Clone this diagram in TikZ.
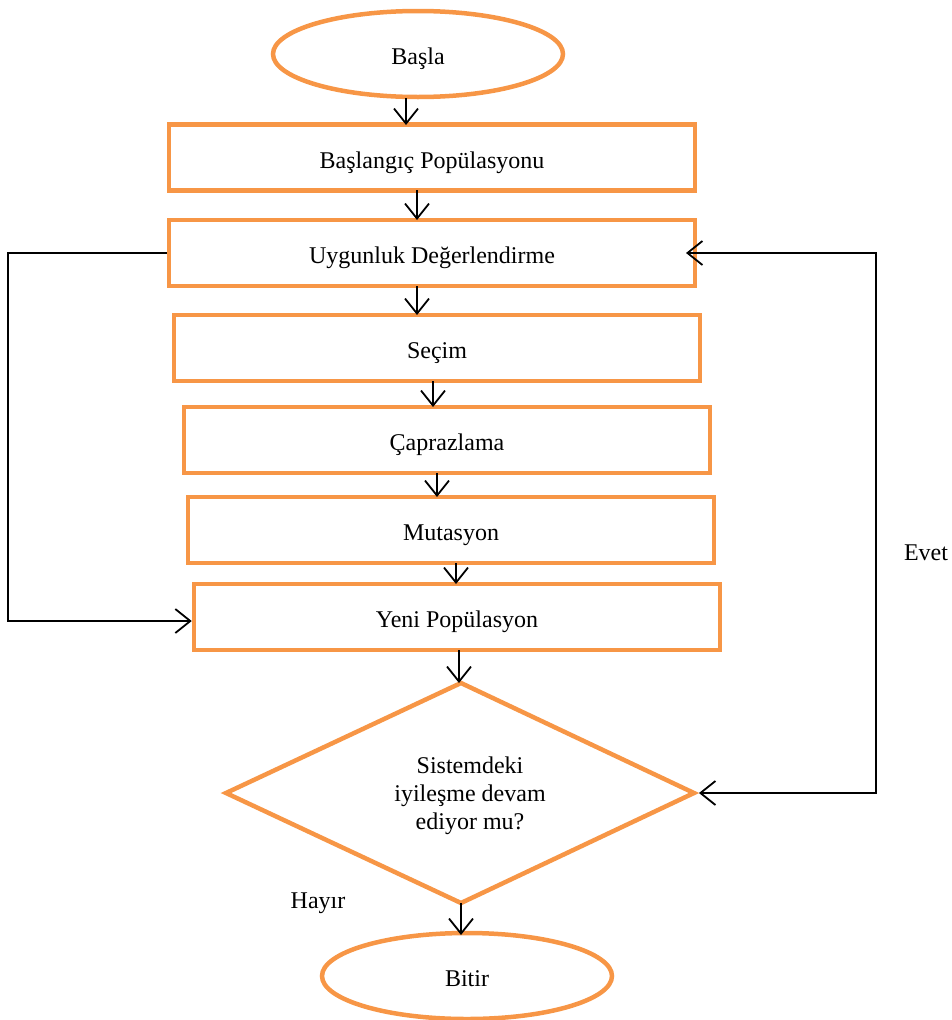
\documentclass[tikz,border=0pt]{standalone}
\usepackage{fontspec}
\setmainfont{Liberation Serif}
\usetikzlibrary{arrows.meta,shapes.geometric}
\definecolor{boxorange}{HTML}{F79646}
\tikzset{
  procbox/.style={draw=boxorange,line width=4.5pt,minimum width=526pt,minimum height=66pt,inner sep=0pt,font=\fontsize{24}{28}\selectfont,text height=22pt,text depth=1pt},
  termnode/.style={draw=boxorange,line width=4.5pt,ellipse,minimum width=290pt,minimum height=86pt,inner sep=0pt,font=\fontsize{24}{28}\selectfont,text height=22pt,text depth=1pt},
  conn/.style={draw=black,line width=1.8pt,-{Straight Barb[length=15pt,width=24pt,line width=1.8pt]}},
  conn2/.style={draw=black,line width=1.8pt,{Straight Barb[length=15pt,width=24pt,line width=1.8pt]}-{Straight Barb[length=15pt,width=24pt,line width=1.8pt]}},
  lbl/.style={font=\fontsize{24}{28}\selectfont,inner sep=0pt}
}
\begin{document}
\begin{tikzpicture}[x=1pt,y=-1pt]
\useasboundingbox (0,0) rectangle (952,1020);
\node[termnode] (start) at (418,54) {Başla};
\node[procbox] (p1) at (432,157.5) {Başlangıç Popülasyonu};
\node[procbox] (p2) at (432,253) {Uygunluk Değerlendirme};
\node[procbox] (p3) at (437,348) {Seçim};
\node[procbox] (p4) at (447,440) {Çaprazlama};
\node[procbox] (p5) at (451,530) {Mutasyon};
\node[procbox] (p6) at (457,617) {Yeni Popülasyon};
\coordinate (dt) at (461,683);
\coordinate (db) at (461,903);
\coordinate (dl) at (226,793);
\coordinate (dr) at (694,793);
\draw[draw=boxorange,line width=4.5pt,line join=miter] (dt) -- (dr) -- (db) -- (dl) -- cycle;
\node[lbl,align=center,font=\fontsize{24}{28}\selectfont] (dtext) at (470,796) {Sistemdeki\\iyileşme devam\\ediyor mu?};
\node[termnode] (end) at (467,976) {Bitir};
\node[lbl] (evet) at (926,553) {Evet};
\node[lbl] (hayir) at (318,903) {Hayır};
% vertical arrows
\draw[conn] (406,98) -- (406,125);
\draw[conn] (417,190) -- (417,220);
\draw[conn] (417,286) -- (417,315);
\draw[conn] (433,381) -- (433,407);
\draw[conn] (437,473) -- (437,497);
\draw[conn] (456,563) -- (456,584);
\draw[conn] (459,650) -- (459,683);
\draw[conn] (db) -- (461,935);
% loops
\coordinate (la) at (8,253);
\coordinate (lb) at (8,621);
\draw[conn] (p2.west) -- (la) -- (lb) -- (p6.west |- lb);
\coordinate (ra) at (876,793);
\coordinate (rb) at (876,253);
\coordinate (rin) at (699,793);
\coordinate (rout) at (686,253);
\draw[conn2] (rin) -- (ra) -- (rb) -- (rout);
\end{tikzpicture}
\end{document}
